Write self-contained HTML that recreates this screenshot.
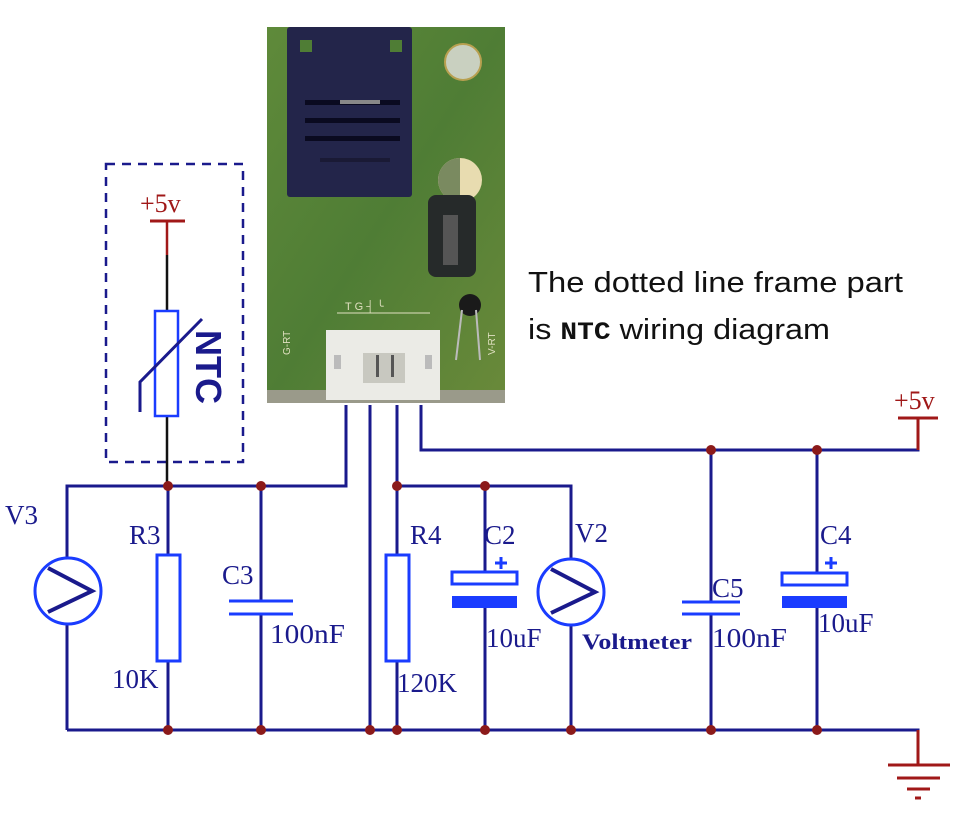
<!DOCTYPE html>
<html><head><meta charset="utf-8"><style>
html,body{margin:0;padding:0;background:#fff;width:960px;height:835px;overflow:hidden}
svg text{font-family:"Liberation Serif",serif;fill:#1a1a8c}
</style></head><body>
<svg width="960" height="835" viewBox="0 0 960 835" xmlns="http://www.w3.org/2000/svg">
<defs>
<linearGradient id="pcb" x1="0" y1="0" x2="1" y2="1">
<stop offset="0" stop-color="#5f8a3a"/><stop offset="0.5" stop-color="#4f7d35"/><stop offset="1" stop-color="#6a8a3a"/>
</linearGradient>
</defs>
<!-- PCB -->
<rect x="267" y="27" width="238" height="376" fill="url(#pcb)"/>
<rect x="267" y="390" width="238" height="13" fill="#9a9a8a"/>
<rect x="287" y="27" width="125" height="170" fill="#23254a" rx="3"/>
<rect x="300" y="40" width="12" height="12" fill="#4f7d35"/><rect x="390" y="40" width="12" height="12" fill="#4f7d35"/>
<rect x="305" y="100" width="95" height="5" fill="#0a0a20"/><rect x="340" y="100" width="40" height="4" fill="#888"/>
<rect x="305" y="118" width="95" height="5" fill="#0a0a20"/><rect x="305" y="136" width="95" height="5" fill="#0a0a20"/><rect x="320" y="158" width="70" height="4" fill="#1a1a35"/>
<circle cx="463" cy="62" r="18" fill="#c9d0c0" stroke="#b8a050" stroke-width="2"/>
<circle cx="460" cy="180" r="22" fill="#e8dcb0"/><path d="M460 158 A22 22 0 0 0 460 202Z" fill="#7a8a60"/>
<rect x="428" y="195" width="48" height="82" rx="8" fill="#262a2a"/>
<rect x="443" y="215" width="15" height="50" fill="#555"/>
<circle cx="470" cy="305" r="11" fill="#1a1a1a"/>
<line x1="462" y1="310" x2="456" y2="360" stroke="#bbb" stroke-width="2"/><line x1="476" y1="310" x2="480" y2="360" stroke="#bbb" stroke-width="2"/>
<text x="345" y="310" style="fill:#e0e0c0;font-family:'Liberation Sans',sans-serif;font-size:11px">T G ┤ ╰</text>
<line x1="337" y1="313" x2="430" y2="313" stroke="#e0e0c0"/>
<text transform="translate(290,355) rotate(-90)" style="fill:#e0e0c0;font-family:'Liberation Sans',sans-serif;font-size:10px">G-RT</text>
<text transform="translate(495,355) rotate(-90)" style="fill:#e0e0c0;font-family:'Liberation Sans',sans-serif;font-size:10px">V-RT</text>
<rect x="326" y="330" width="114" height="70" fill="#ebebe6"/>
<rect x="363" y="353" width="42" height="30" fill="#c8c8c0"/>
<rect x="334" y="355" width="7" height="14" fill="#bbb"/><rect x="425" y="355" width="7" height="14" fill="#bbb"/>
<rect x="376" y="355" width="3" height="22" fill="#555"/><rect x="391" y="355" width="3" height="22" fill="#555"/>

<!-- NTC dashed box -->
<rect x="106" y="164" width="137" height="298" fill="none" stroke="#1a1a8c" stroke-width="2.5" stroke-dasharray="9,7"/>
<text x="140" y="212" style="fill:#a01818;font-size:26px">+5v</text>
<line x1="150" y1="221" x2="185" y2="221" stroke="#a01818" stroke-width="3"/>
<line x1="167" y1="221" x2="167" y2="255" stroke="#a01818" stroke-width="2.5"/>
<line x1="167" y1="255" x2="167" y2="486" stroke="#111" stroke-width="2.5"/>
<rect x="155" y="311" width="23" height="105" fill="#fff" stroke="#1a3cff" stroke-width="2.5"/>
<polyline points="140,412 140,382 202,319" fill="none" stroke="#1a1a8c" stroke-width="3"/>
<text transform="translate(196,330) rotate(90)" style="font-family:'Liberation Sans',sans-serif;font-weight:bold;font-size:36px;fill:#1a1a8c">NTC</text>

<!-- wires -->
<g stroke="#1a1a8c" stroke-width="3" fill="none">
<polyline points="346,405 346,486 67,486 67,557"/>
<line x1="67" y1="625" x2="67" y2="730"/>
<line x1="370" y1="405" x2="370" y2="730"/>
<polyline points="397,405 397,486 571,486 571,559"/>
<polyline points="421,405 421,450 918,450 918,418"/>
<polyline points="67,730 918,730 918,765"/>
<line x1="168" y1="486" x2="168" y2="555"/><line x1="168" y1="661" x2="168" y2="730"/>
<line x1="261" y1="486" x2="261" y2="601"/><line x1="261" y1="614" x2="261" y2="730"/>
<line x1="397" y1="486" x2="397" y2="555"/><line x1="397" y1="661" x2="397" y2="730"/>
<line x1="485" y1="486" x2="485" y2="572"/><line x1="485" y1="607" x2="485" y2="730"/>
<line x1="571" y1="625" x2="571" y2="730"/>
<line x1="711" y1="450" x2="711" y2="602"/><line x1="711" y1="614" x2="711" y2="730"/>
<line x1="817" y1="450" x2="817" y2="573"/><line x1="817" y1="607" x2="817" y2="730"/>
</g>
<!-- +5v right and ground -->
<text x="894" y="409" style="fill:#a01818;font-size:26px">+5v</text>
<line x1="898" y1="418" x2="938" y2="418" stroke="#a01818" stroke-width="3"/>
<line x1="918" y1="418" x2="918" y2="450" stroke="#a01818" stroke-width="3"/>
<line x1="918" y1="730" x2="918" y2="765" stroke="#a01818" stroke-width="3"/>
<line x1="888" y1="765" x2="950" y2="765" stroke="#a01818" stroke-width="3"/>
<line x1="897" y1="778" x2="940" y2="778" stroke="#a01818" stroke-width="3"/>
<line x1="907" y1="789" x2="930" y2="789" stroke="#a01818" stroke-width="3"/>
<line x1="915" y1="798" x2="921" y2="798" stroke="#a01818" stroke-width="3"/>

<!-- components -->
<g stroke="#1a3cff" stroke-width="3" fill="#fff">
<circle cx="68" cy="591" r="33"/>
<circle cx="571" cy="592" r="33"/>
<rect x="157" y="555" width="23" height="106"/>
<rect x="386" y="555" width="23" height="106"/>
<rect x="452" y="572" width="65" height="12"/>
<rect x="782" y="573" width="65" height="12"/>
</g>
<g stroke="#1a3cff" stroke-width="3">
<line x1="229" y1="601" x2="293" y2="601"/><line x1="229" y1="614" x2="293" y2="614"/>
<line x1="682" y1="602" x2="740" y2="602"/><line x1="682" y1="614" x2="740" y2="614"/>
<line x1="495" y1="563" x2="507" y2="563"/><line x1="501" y1="557" x2="501" y2="569"/>
<line x1="825" y1="563" x2="837" y2="563"/><line x1="831" y1="557" x2="831" y2="569"/>
</g>
<rect x="452" y="596" width="65" height="12" fill="#1a3cff"/>
<rect x="782" y="596" width="65" height="12" fill="#1a3cff"/>
<g stroke="#1a1a8c" stroke-width="4" fill="none">
<polyline points="48,568 92,591 48,612"/>
<polyline points="551,569 595,592 551,613"/>
</g>

<!-- junction dots -->
<g fill="#8b1a1a">
<circle cx="168" cy="486" r="5"/><circle cx="261" cy="486" r="5"/><circle cx="397" cy="486" r="5"/><circle cx="485" cy="486" r="5"/>
<circle cx="711" cy="450" r="5"/><circle cx="817" cy="450" r="5"/>
<circle cx="168" cy="730" r="5"/><circle cx="261" cy="730" r="5"/><circle cx="370" cy="730" r="5"/><circle cx="397" cy="730" r="5"/>
<circle cx="485" cy="730" r="5"/><circle cx="571" cy="730" r="5"/><circle cx="711" cy="730" r="5"/><circle cx="817" cy="730" r="5"/>
</g>

<!-- labels -->
<g style="font-size:27px">
<text x="5" y="524">V3</text>
<text x="129" y="544">R3</text>
<text x="222" y="584">C3</text>
<text x="112" y="688">10K</text>
<text x="270" y="643" textLength="75" lengthAdjust="spacingAndGlyphs">100nF</text>
<text x="410" y="544">R4</text>
<text x="484" y="544">C2</text>
<text x="575" y="542">V2</text>
<text x="486" y="647">10uF</text>
<text x="397" y="692">120K</text>
<text x="712" y="597">C5</text>
<text x="712" y="647" textLength="75" lengthAdjust="spacingAndGlyphs">100nF</text>
<text x="820" y="544">C4</text>
<text x="818" y="632">10uF</text>
</g>
<text x="582" y="649" textLength="110" lengthAdjust="spacingAndGlyphs" style="font-size:22px;font-weight:bold">Voltmeter</text>

<text x="528" y="292" textLength="375" lengthAdjust="spacingAndGlyphs" style="fill:#111;font-family:'Liberation Sans',sans-serif;font-size:29px">The dotted line frame part</text>
<text x="528" y="339" textLength="302" lengthAdjust="spacingAndGlyphs" style="fill:#111;font-family:'Liberation Sans',sans-serif;font-size:29px">is <tspan style="font-weight:bold;font-family:'Liberation Mono',monospace;font-size:25px">NTC</tspan>  wiring diagram</text>
</svg>
</body></html>
